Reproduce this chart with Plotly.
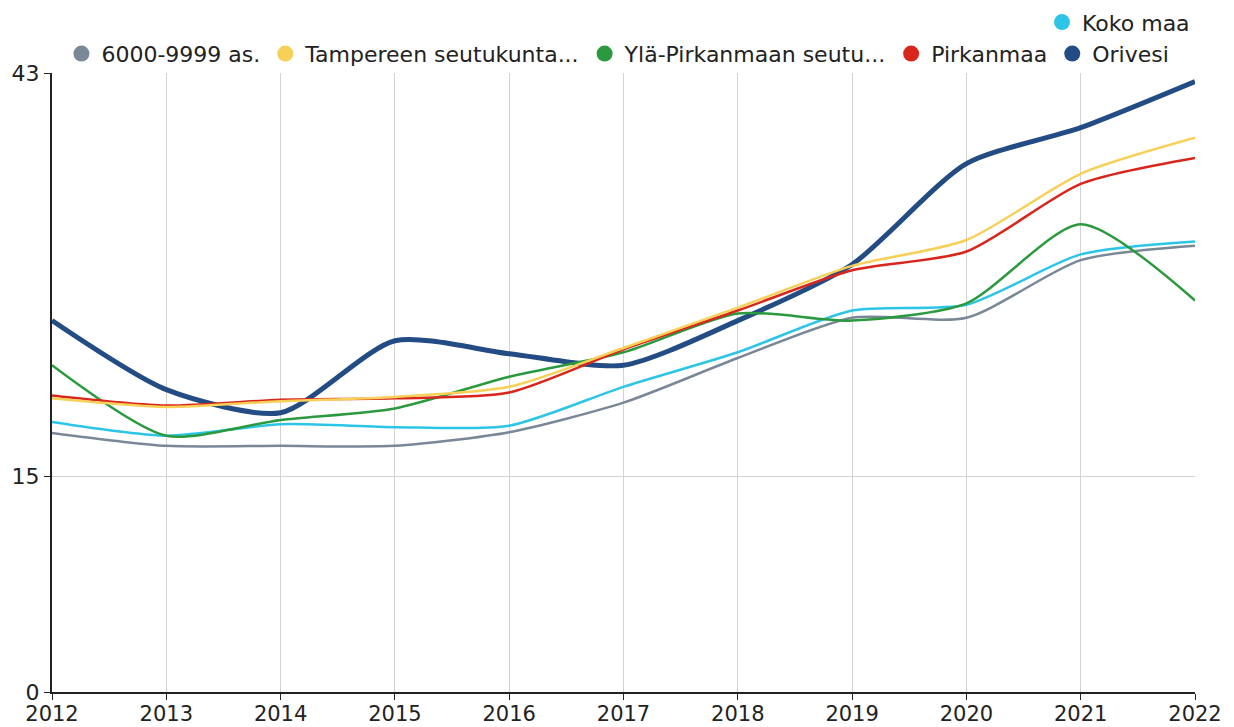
import plotly.graph_objects as go

years = [2012, 2013, 2014, 2015, 2016, 2017, 2018, 2019, 2020, 2021, 2022]

names = ["6000-9999 as.", "Tampereen seutukunta...", "Ylä-Pirkanmaan seutu...", "Pirkanmaa", "Orivesi", "Koko maa"]
colors = ["#7a8797", "#f6d057", "#2b9a3f", "#d9261c", "#234c84", "#2cc5e8"]

v_6000 = [18.0, 17.1, 17.1, 17.1, 18.05, 20.1, 23.2, 26.0, 26.0, 30.0, 31.0]
v_tampere = [20.4, 19.8, 20.2, 20.5, 21.2, 23.9, 26.7, 29.6, 31.4, 36.0, 38.5]
v_yla = [22.7, 17.8, 18.9, 19.7, 21.9, 23.6, 26.3, 25.8, 27.0, 32.5, 27.2]
v_pirkanmaa = [20.6, 19.9, 20.3, 20.4, 20.8, 23.8, 26.5, 29.3, 30.6, 35.3, 37.1]
v_orivesi = [25.8, 21.0, 19.4, 24.4, 23.5, 22.7, 25.8, 29.7, 36.7, 39.2, 42.4]
v_koko = [18.75, 17.8, 18.6, 18.4, 18.5, 21.2, 23.6, 26.5, 26.9, 30.4, 31.3]

series = [v_6000, v_tampere, v_yla, v_pirkanmaa, v_orivesi, v_koko]
widths = [2.5, 2.5, 2.5, 2.5, 5, 2.5]

y_ticks = [0, 15, 43]

fig = go.Figure()

# draw order: Orivesi underneath the others
draw_order = [4, 5, 0, 2, 3, 1]
for i in draw_order:
    fig.add_trace(go.Scatter(
        x=years, y=series[i], mode="lines", name=names[i],
        line=dict(color=colors[i], width=widths[i], shape="spline", smoothing=0.7),
        showlegend=False, hoverinfo="x+y+name"))

# legend entries (circle markers)
for i in range(6):
    fig.add_trace(go.Scatter(
        x=[None], y=[None], mode="markers", name=names[i],
        marker=dict(color=colors[i], size=18),
        legend="legend" if i == 5 else "legend2"))

font = dict(family="DejaVu Sans", size=22, color="#222222")
xfont = dict(family="DejaVu Sans", size=21, color="#222222")

fig.update_layout(
    width=1234, height=727,
    margin=dict(l=52, r=39, t=73, b=35, autoexpand=False),
    paper_bgcolor="white", plot_bgcolor="white",
    font=font,
    legend=dict(orientation="h", x=1.0, xanchor="right", y=1.082, yanchor="middle",
                font=font, itemwidth=30, bgcolor="rgba(0,0,0,0)"),
    legend2=dict(orientation="h", x=0.982, xanchor="right", y=1.031, yanchor="middle",
                 font=font, itemwidth=30, bgcolor="rgba(0,0,0,0)"),
    xaxis=dict(range=[2012, 2022], tickvals=years, ticktext=[str(y) for y in years],
               showgrid=True, gridcolor="#d3d3d3", gridwidth=1,
               showline=True, linecolor="#222222", linewidth=2,
               ticks="outside", ticklen=6, tickcolor="#222222", zeroline=False,
               tickfont=xfont, automargin=False, ticklabelstandoff=-4),
    yaxis=dict(range=[0, 43], tickvals=y_ticks, ticktext=[str(v) for v in y_ticks],
               showgrid=True, gridcolor="#d3d3d3", gridwidth=1,
               showline=True, linecolor="#222222", linewidth=2,
               ticks="outside", ticklen=6, tickcolor="#222222", zeroline=False,
               tickfont=font, automargin=False),
)

fig.write_html(
    "out.html",
    config={"displayModeBar": False},
    post_script="document.body.style.margin='0';document.body.style.overflow='hidden';",
)
